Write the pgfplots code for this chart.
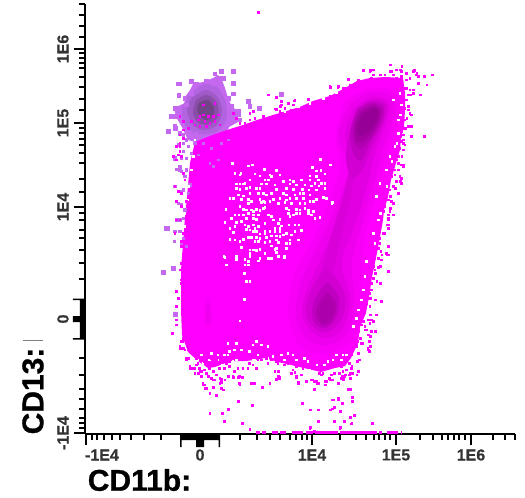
\documentclass[border=0pt]{standalone}
\usepackage{fontspec}
\setmainfont{Liberation Sans}
\newfontface\hv{Liberation Sans Bold}[FakeBold=0.9]
\newfontface\hs{Liberation Sans Bold}[FakeBold=0.4]
\usepackage{pgfplots}
\pgfplotsset{compat=1.18}
\definecolor{mag}{HTML}{FF00FF}
\definecolor{tk}{gray}{0.2}
\definecolor{blobA}{HTML}{C468F0}
\definecolor{blobB}{HTML}{B264E0}
\definecolor{blobC}{HTML}{A05AC8}
\definecolor{blobD}{HTML}{8A4DA8}
\definecolor{blobE}{HTML}{724488}
\definecolor{lv1}{HTML}{F800F8}
\definecolor{lv2}{HTML}{EE00EE}
\definecolor{lv3}{HTML}{E200E2}
\definecolor{lv4}{HTML}{D200D2}
\definecolor{lv4t}{HTML}{DA00DA}
\definecolor{lv5}{HTML}{C000C0}
\definecolor{lv5b}{HTML}{B000B0}
\definecolor{lv6}{HTML}{A200A2}
\definecolor{lv6b}{HTML}{AC00AC}
\definecolor{lv7}{HTML}{960096}
\pgfplotsset{
  /pgfplots/table/zfrR/.style={header=false,row sep=crcr,x expr=\thisrowno{0}/3+262,y expr=\thisrowno{1}/3},
  /pgfplots/table/zfrS/.style={header=false,row sep=crcr,x expr=\thisrowno{0}/3+262,y expr=\thisrowno{1}/3+250},
  /pgfplots/table/zfrL/.style={header=false,row sep=crcr,x expr=\thisrowno{0}/3,y expr=\thisrowno{1}/3},
  /pgfplots/table/zfrB/.style={header=false,row sep=crcr,x expr=\thisrowno{0}/3,y expr=\thisrowno{1}/3+250},
  /pgfplots/table/zfrC/.style={header=false,row sep=crcr,x expr=\thisrowno{0}/3+170,y expr=\thisrowno{1}/3+340},
  /pgfplots/table/zfrW/.style={header=false,row sep=crcr,x expr=\thisrowno{0}/3+215,y expr=\thisrowno{1}/3+160},
  /pgfplots/table/zfrU/.style={header=false,row sep=crcr,x expr=\thisrowno{0}/3+160,y expr=\thisrowno{1}/3+60},
  /pgfplots/table/zfrA/.style={header=false,row sep=crcr,x expr=\thisrowno{0}/3+178,y expr=\thisrowno{1}/3+340},
  /pgfplots/table/zfrE/.style={header=false,row sep=crcr,x expr=\thisrowno{0}/3+278,y expr=\thisrowno{1}/3+340},
  /pgfplots/table/zfrF/.style={header=false,row sep=crcr,x expr=\thisrowno{0}/3+360,y expr=\thisrowno{1}/3+70},
  /pgfplots/table/zfrG/.style={header=false,row sep=crcr,x expr=\thisrowno{0}/3+230,y expr=\thisrowno{1}/3+70},
  /pgfplots/table/zfrH/.style={header=false,row sep=crcr,x expr=\thisrowno{0}/3+165,y expr=\thisrowno{1}/3+130},
  /pgfplots/table/zfrI/.style={header=false,row sep=crcr,x expr=\thisrowno{0}/3+345,y expr=\thisrowno{1}/3+210},
  dot/.style={only marks,color=#1,mark=square*,mark size=0.85pt,mark options={solid,line width=0pt,draw=#1,fill=#1}},
  mid/.style={only marks,color=#1,mark=square*,mark size=1.25pt,mark options={solid,line width=0pt,draw=#1,fill=#1}},
  big/.style={only marks,color=#1,mark=square*,mark size=1.9pt,mark options={solid,line width=0pt,draw=#1,fill=#1}},
  lay/.style={draw=none,fill=#1,no marks,smooth,tension=0.6},
  poly/.style={draw=none,fill=#1,no marks},
}
\begin{document}
\begin{tikzpicture}
\useasboundingbox (-85pt,-64pt) rectangle (440pt,434pt);
\begin{axis}[
  at={(0pt,0pt)},anchor=south west,scale only axis,width=430pt,height=430pt,
  xmin=85,xmax=515,ymin=4,ymax=434,y dir=reverse,clip=false,
  axis x line=bottom,axis y line=left,
  axis line style={line width=1.6pt,black,-},
  tick align=outside,
  major tick length=11pt,minor tick length=5.5pt,
  every tick/.style={line width=1.1pt,black},
  xtick={86,200,312,396,471},
  xticklabels={\hspace*{32pt}-1E4,0,1E4,1E5,1E6},
  ytick={49,123,207,319,433},
  yticklabels={1E6,1E5,1E4,0,-1E4},
  minor xtick={92,97,104,112,120,131,144,161,240,257,270,280,290,296,302,307,340,356,366,374,379,385,390,420,433,442,448,454,459,465,493,505,515},
  minor ytick={4,15,26,37,53,58,63,68,77,87,99,110,128,133,139,145,153,163,179,192,213,220,230,238,250,263,279,358,375,389,399,409,418,423,428},
  xticklabel style={font=\hs\fontsize{16}{16}\selectfont,text=tk,anchor=center,yshift=-10pt},
  yticklabel style={font=\hs\fontsize{16}{16}\selectfont,text=tk,rotate=90,anchor=center,yshift=11pt},
  xlabel={\hv\fontsize{30}{30}\selectfont CD11b:},
  ylabel={\hv\fontsize{30}{30}\selectfont CD13:},
  xlabel style={at={(axis description cs:0.1267,-0.107)},anchor=center,text=black},
  ylabel style={at={(axis description cs:-0.121,0.1)},anchor=center,rotate=0,text=black},
]
% --- gated population, top left
\addplot[poly=blobA] coordinates {(193,84)(203,82)(213,78)(218,75)(222,80)(225,88)(228,98)(232,107)(237,110)(238,122)(229,127)(227,132)(217,136)(207,140)(195,142)(188,140)(182,127)(176,117)(174,108)(185,103)(185,97)(190,90)} -- cycle;
\addplot[lay=blobB] coordinates {(188,95)(205,84)(218,88)(226,104)(226,120)(216,132)(198,134)(186,126)(182,110)(188,95)};
\addplot[lay=blobC] coordinates {(192,98)(206,90)(218,98)(222,112)(216,126)(202,130)(191,122)(187,108)(192,98)};
\addplot[lay=blobD] coordinates {(196,100)(207,95)(217,103)(218,116)(210,124)(199,123)(193,113)(196,100)};
\addplot[lay=blobE] coordinates {(199,103)(208,100)(214,108)(213,116)(206,120)(200,116)(197,110)(199,103)};
\addplot[big=blobA] table[zfrL]{535 252\\575 245\\537 287\\505 393\\525 475\\540 510\\500 685\\645 222\\665 213\\700 215\\700 250\\533 325\\525 350\\515 348\\527 385\\540 400\\660 235\\640 250\\745 305\\750 320\\715 345\\};
\addplot[big=blobA] table[zfrU]{58 72\\95 65\\57 107\\165 42\\185 35\\220 35\\222 72\\45 145\\35 170\\45 200\\25 215\\50 170\\80 135\\75 115\\95 100\\110 72\\140 65\\160 70\\175 60\\190 55\\205 115\\215 140\\235 155\\240 180\\};
\addplot[big=blobA] table[zfrB]{490 67\\520 55\\527 193\\};
\addplot[big=blobA] table[zfrR]{58 283\\};
\addplot[big=blobA] table[zfrG]{10 5\\10 42\\10 72\\55 95\\60 110\\88 115\\};
\addplot[big=blobA] table[zfrH]{10 5\\30 85\\8 295\\};
\addplot[mid=blobA] table[zfrH]{55 15\\65 30\\55 40\\40 45\\70 50\\55 65\\80 70\\65 85\\50 85\\45 110\\35 118\\50 125\\65 120\\60 140\\30 170\\45 185\\75 165\\55 180\\70 190\\40 220\\50 225\\60 240\\45 270\\35 270\\55 265\\30 305\\45 305\\55 325\\28 335\\50 340\\65 350\\80 20\\90 40\\75 8\\95 10\\};
% --- main population
\addplot[poly=mag] coordinates {(195,142)(215,134)(230,129)(243,125)(257,120)(273,115)(290,110)(302,106)(313,101)(330,96)(345,88)(357,81)(370,78)(385,77)(403,78)(405,93)(405,110)(404,127)(401,137)(400,150)(396,163)(391,180)(388,197)(384,210)(383,220)(380,237)(377,253)(372,277)(369,297)(366,313)(360,327)(358,343)(351,358)(345,366)(335,368)(321,372)(308,369)(291,365)(278,362)(265,358)(255,360)(245,361)(231,361)(223,364)(215,367)(208,368)(198,361)(188,352)(182,335)(181,310)(181,270)(183,243)(185,217)(187,197)(190,163)} -- cycle;
% --- density levels
\addplot[lay=lv1] coordinates {(345,100)(372,88)(395,92)(400,115)(388,150)(378,190)(368,225)(362,260)(360,300)(355,335)(335,352)(305,350)(290,325)(290,290)(300,262)(315,235)(330,200)(340,165)(336,135)(345,100)};
\addplot[lay=lv2] coordinates {(350,103)(372,92)(392,97)(394,115)(383,150)(372,190)(362,225)(352,262)(354,300)(348,332)(330,345)(308,340)(296,318)(300,285)(312,258)(328,225)(342,190)(348,165)(338,135)(350,103)};
\addplot[lay=lv3] coordinates {(354,108)(372,97)(388,102)(388,118)(376,150)(366,190)(354,228)(342,262)(350,298)(344,326)(328,338)(312,332)(302,312)(310,282)(326,248)(340,210)(352,170)(345,135)(354,108)};
\addplot[lay=lv4t] coordinates {(356,170)(350,200)(340,240)(332,275)(322,275)(330,240)(342,200)(350,170)(356,170)};
\addplot[lay=lv4] coordinates {(356,110)(372,100)(386,104)(384,122)(372,148)(362,170)(352,178)(346,160)(349,135)(356,110)};
\addplot[lay=lv4] coordinates {(325,268)(338,280)(346,300)(340,322)(326,332)(312,326)(306,310)(312,288)(325,268)};
\addplot[lay=lv5] coordinates {(358,108)(372,102)(384,107)(381,124)(370,143)(362,160)(354,155)(350,132)(358,108)};
\addplot[lay=lv5] coordinates {(328,282)(339,298)(336,318)(325,328)(314,322)(313,305)(320,290)(328,282)};
\addplot[lay=lv5b] coordinates {(360,110)(373,104)(382,110)(378,126)(367,143)(358,148)(353,135)(355,120)(360,110)};
\addplot[lay=lv5b] coordinates {(328,292)(336,304)(332,320)(323,325)(316,315)(320,300)(328,292)};
\addplot[lay=lv6] coordinates {(361,112)(374,106)(380,113)(376,126)(365,140)(357,141)(355,125)(361,112)};
\addplot[lay=lv6b] coordinates {(329,298)(334,306)(330,318)(323,322)(319,314)(323,303)(329,298)};
\addplot[lay=lv7] coordinates {(363,114)(375,108)(378,114)(372,128)(362,136)(357,132)(359,120)(363,114)};
\addplot[lay=lv1] coordinates {(208,296)(212,310)(211,325)(206,325)(204,310)(208,296)};
\addplot[lay=lv2] coordinates {(208,302)(210,312)(209,322)(207,322)(206,312)(208,302)};
% --- holes in the main population
\addplot[dot=white] table[zfrW]{52 10\\100 18\\112 15\\148 28\\292 22\\347 15\\318 32\\305 33\\60 40\\78 40\\75 45\\120 42\\185 32\\165 45\\135 48\\195 45\\285 48\\305 50\\330 42\\105 60\\150 60\\160 60\\170 50\\90 70\\225 60\\235 65\\260 60\\205 65\\310 60\\320 70\\285 60\\300 70\\330 70\\65 72\\75 72\\85 72\\140 72\\155 72\\180 75\\225 72\\245 75\\270 75\\290 78\\312 78\\65 85\\75 88\\95 85\\105 82\\125 85\\135 85\\185 88\\215 85\\235 88\\262 88\\282 90\\305 90\\330 85\\45 115\\70 105\\55 115\\85 108\\105 100\\130 100\\145 100\\155 105\\170 100\\205 100\\215 105\\240 105\\255 100\\265 100\\285 105\\325 112\\305 118\\335 115\\80 118\\100 118\\135 118\\145 125\\165 125\\175 118\\195 115\\215 120\\225 115\\245 115\\265 115\\285 125\\295 125\\352 128\\100 130\\110 125\\140 128\\150 128\\190 130\\210 128\\230 130\\255 130\\270 130\\33 148\\75 140\\85 148\\95 150\\110 150\\125 148\\135 152\\145 145\\150 142\\215 145\\222 150\\245 148\\255 150\\270 145\\280 152\\295 155\\60 165\\72 165\\85 165\\100 160\\115 155\\115 165\\115 175\\130 165\\160 165\\170 170\\220 160\\225 170\\235 165\\245 160\\255 160\\290 165\\300 175\\280 160\\315 172\\30 188\\50 175\\65 188\\80 185\\95 175\\125 178\\175 180\\190 190\\222 195\\240 195\\252 195\\195 178\\45 205\\60 200\\90 195\\100 200\\115 195\\120 205\\150 190\\180 205\\195 205\\200 198\\130 200\\95 208\\105 210\\115 215\\125 215\\55 218\\135 222\\150 215\\165 215\\180 215\\195 215\\150 222\\215 220\\240 215\\230 225\\260 212\\45 238\\60 240\\85 238\\100 232\\110 232\\125 232\\135 235\\155 232\\170 228\\185 228\\195 230\\225 240\\250 240\\205 225\\75 245\\120 245\\130 245\\150 248\\165 245\\185 240\\190 248\\170 258\\215 250\\225 250\\80 262\\105 270\\115 270\\125 272\\135 268\\180 268\\185 265\\215 265\\105 280\\150 280\\185 278\\30 292\\65 292\\65 298\\90 298\\100 305\\130 303\\160 296\\170 296\\190 290\\208 288\\208 293\\};
\addplot[dot=white] table[zfrB]{672 20\\710 20\\750 20\\780 25\\735 45\\680 45\\745 45\\733 70\\740 95\\750 95\\733 148\\720 213\\};
\addplot[dot=white] table[zfrA]{150 10\\175 10\\235 5\\225 15\\250 15\\270 20\\155 35\\170 30\\190 30\\215 35\\120 60\\165 65\\200 70\\230 60\\260 65\\285 50\\150 45\\175 60\\130 75\\205 75\\250 75\\95 60\\75 70\\60 60\\120 45\\140 45\\160 80\\185 75\\225 60\\240 45\\270 55\\290 75\\45 60\\70 45\\100 40\\};
\addplot[dot=white] table[zfrE]{175 45\\195 45\\80 55\\45 45\\30 40\\20 60\\55 60\\90 65\\115 75\\140 75\\165 60\\190 60\\225 65\\235 55\\65 90\\30 85\\95 90\\150 65\\10 45\\205 45\\};
\addplot[dot=white] table[zfrI]{100 30\\85 70\\90 100\\65 155\\60 200\\55 240\\50 270\\40 300\\35 325\\25 350\\};
\addplot[dot=white] table[zfrF]{120 70\\125 105\\115 150\\115 190\\105 230\\90 260\\80 300\\60 340\\50 380\\};
\addplot[dot=white] table[zfrG]{40 160\\85 140\\125 125\\165 125\\205 110\\240 100\\280 85\\320 70\\345 40\\};
\addplot[dot=white] table[zfrH]{90 30\\85 80\\80 120\\70 170\\68 210\\60 250\\58 290\\};
\addplot[dot=white] table[zfrR]{175 478\\205 495\\210 610\\395 300\\415 345\\405 430\\390 485\\375 560\\355 640\\};
% --- stray events
\addplot[dot=mag] table[zfrR]{385 195\\420 200\\415 210\\305 212\\325 212\\385 215\\355 225\\458 212\\465 220\\470 230\\487 230\\512 225\\495 255\\475 285\\455 270\\445 285\\435 265\\430 300\\440 320\\450 345\\435 355\\450 380\\430 385\\420 395\\415 410\\450 410\\487 410\\425 430\\410 470\\420 470\\390 460\\405 480\\425 495\\410 510\\385 525\\415 545\\360 550\\400 565\\410 580\\385 590\\370 600\\395 610\\385 625\\355 620\\395 645\\380 655\\375 675\\345 690\\365 700\\330 715\\380 740\\345 710\\300 255\\260 238\\228 262\\245 265\\205 262\\240 295\\140 297\\18 285\\43 292\\97 303\\80 310\\60 305\\55 320\\40 327\\60 340\\103 350\\45 350\\};
\addplot[dot=mag] table[zfrS]{360 15\\375 15\\350 25\\355 50\\380 65\\335 35\\340 70\\345 95\\355 100\\320 90\\330 100\\315 125\\325 145\\340 150\\360 155\\315 160\\305 185\\345 195\\325 195\\320 210\\305 215\\285 220\\290 235\\340 245\\315 240\\325 260\\295 265\\300 280\\325 290\\320 300\\285 290\\265 293\\290 310\\270 315\\285 335\\270 350\\290 365\\285 375\\265 370\\250 375\\240 378\\245 388\\265 385\\230 400\\205 390\\190 405\\165 400\\150 390\\135 395\\110 398\\260 418\\265 418\\157 418\\212 450\\228 445\\228 450\\270 442\\270 455\\242 462\\212 477\\205 480\\235 485\\122 462\\145 480\\168 480\\278 497\\265 502\\168 515\\218 515\\248 515\\270 520\\330 520\\145 533\\235 533\\157 545\\};
\addplot[dot=mag] table[zfrC]{35 5\\40 25\\30 25\\50 60\\60 85\\75 100\\95 110\\90 95\\105 135\\105 145\\120 160\\140 168\\130 120\\150 115\\150 130\\155 145\\160 150\\130 142\\165 120\\175 110\\190 112\\205 112\\218 112\\210 135\\245 130\\255 130\\278 143\\300 130\\320 118\\330 112\\205 185\\248 197\\175 208\\120 220\\157 220\\163 245\\217 250\\240 268\\398 190\\420 210\\445 210\\445 245\\420 265\\435 275\\490 180\\505 175\\505 180\\517 190\\493 202\\480 210\\510 215\\553 228\\540 232\\523 245\\493 245\\545 252\\510 265\\607 250\\547 172\\547 185\\540 150\\535 148\\432 150\\385 130\\410 125\\428 120\\440 125\\445 130\\465 125\\465 135\\480 118\\505 130\\520 118\\375 98\\325 95\\315 95\\325 110\\380 112\\};
\addplot[dot=mag] table[zfrA]{15 5\\30 5\\10 25\\30 30\\40 35\\25 55\\45 45\\55 55\\60 70\\40 85\\50 85\\65 85\\70 95\\80 90\\85 100\\85 75\\95 85\\105 95\\115 105\\100 115\\110 120\\75 130\\130 118\\130 128\\115 60\\135 60\\145 70\\155 65\\140 85\\155 80\\170 95\\180 85\\165 110\\185 110\\190 60\\205 60\\215 70\\225 75\\195 85\\210 85\\240 60\\235 85\\250 60\\265 55\\270 70\\280 60\\295 65\\255 45\\275 40\\290 40\\185 130\\70 60\\80 65\\95 70\\100 55\\110 75\\125 70\\125 85\\};
\addplot[dot=mag] table[zfrE]{0 70\\10 60\\20 75\\0 95\\45 90\\40 100\\55 110\\70 105\\75 85\\100 80\\120 90\\125 100\\135 100\\150 85\\160 75\\175 70\\210 60\\215 70\\245 60\\240 65\\220 85\\205 90\\195 95\\185 100\\170 100\\160 105\\155 115\\145 125\\100 120\\110 125\\120 130\\85 125\\60 130\\5 115\\130 105\\225 100\\215 105\\190 115\\200 110\\165 120\\255 10\\275 5\\270 25\\275 35\\240 5\\230 20\\30 70\\55 80\\70 70\\110 75\\140 85\\190 80\\200 70\\};
\addplot[dot=mag] table[zfrF]{5 45\\30 5\\40 15\\35 25\\60 15\\75 15\\85 25\\95 5\\100 15\\110 25\\125 5\\125 20\\140 10\\160 5\\170 15\\175 40\\150 25\\140 30\\135 55\\150 60\\160 70\\145 75\\140 90\\135 115\\145 120\\150 130\\155 135\\135 150\\130 175\\125 185\\145 170\\155 170\\155 200\\130 195\\130 210\\125 215\\135 225\\120 235\\130 240\\98 250\\115 260\\105 270\\95 285\\115 280\\125 285\\130 290\\105 300\\95 320\\105 315\\120 320\\125 325\\110 335\\125 340\\68 340\\100 350\\90 360\\80 375\\115 370\\70 380\\85 390\\95 395\\60 410\\75 410\\90 415\\40 0\\110 0\\};
\addplot[dot=mag] table[zfrG]{115 75\\155 95\\155 105\\175 100\\195 90\\190 105\\235 88\\300 50\\325 50\\345 55\\355 30\\360 45\\385 30\\320 75\\330 70\\335 85\\300 80\\290 90\\275 100\\255 105\\270 115\\250 120\\210 120\\185 120\\165 115\\140 118\\150 125\\70 125\\60 130\\75 145\\100 140\\120 145\\60 150\\45 160\\10 130\\20 145\\30 160\\};
\addplot[dot=mag] table[zfrH]{45 15\\45 50\\40 75\\55 130\\60 150\\75 195\\65 215\\70 240\\65 280\\80 255\\75 145\\75 300\\70 320\\60 300\\};
\addplot[dot=mag] table[zfrI]{115 5\\135 5\\130 15\\145 15\\110 25\\130 30\\105 40\\130 45\\118 70\\100 60\\105 85\\130 55\\105 100\\100 115\\108 125\\85 140\\80 150\\90 145\\110 150\\130 135\\125 130\\75 160\\85 170\\100 172\\90 180\\130 185\\80 185\\75 205\\85 205\\105 220\\70 215\\65 245\\80 240\\75 250\\90 270\\70 265\\110 275\\65 275\\60 290\\75 290\\75 315\\55 315\\95 315\\80 330\\75 340\\40 340\\50 345\\60 350\\85 335\\60 360\\70 375\\40 365\\45 385\\35 400\\75 395\\15 413\\75 410\\50 400\\80 365\\};
\addplot[dot=mag] table[zfrL]{775 38\\530 440\\540 455\\545 470\\530 480\\520 470\\525 560\\535 575\\545 580\\530 605\\545 620\\540 660\\530 660\\525 700\\545 725\\545 740\\550 700\\};
\addplot[dot=mag] table[zfrB]{545 40\\540 60\\545 90\\545 100\\530 125\\535 145\\530 170\\530 210\\530 225\\518 250\\550 265\\540 290\\560 275\\555 300\\565 325\\570 350\\590 345\\595 370\\605 380\\615 360\\625 380\\640 365\\610 405\\620 415\\630 430\\650 435\\670 420\\660 400\\720 405\\755 400\\763 400\\715 455\\757 465\\685 478\\630 490\\667 490\\672 515\\727 520\\750 540\\};
\addplot[dot=mag] table[zfrU]{130 135\\165 130\\120 170\\130 165\\145 170\\160 170\\175 165\\115 180\\135 185\\150 190\\165 185\\105 195\\120 200\\140 200\\180 195\\60 170\\70 185\\95 185\\85 205\\70 210\\60 225\\70 235\\60 250\\};
\addplot[dot=blobA] table[zfrU]{115 285\\155 265\\185 250\\175 300\\130 250\\150 310\\160 320\\205 240\\};
% --- events on the axis
\addplot[draw=mag,line width=2.2pt,no marks,unbounded coords=jump] coordinates {(256,432.5)(260,432.5)(258,nan)(262,432.5)(266,432.5)(268,nan)(272,432.5)(278,432.5)(279,nan)(280,432.5)(286,432.5)(288,nan)(292,432.5)(303,432.5)(304,nan)(306,432.5)(313,432.5)(314,nan)(315,432.5)(338,432.5)(339,nan)(340,432.5)(377,432.5)(378,nan)(379,432.5)(382,432.5)(384,nan)(387,432.5)(398,432.5)(399,nan)(401,432.5)(402,432.5)};
% --- the wide linear bands of the biexponential scales
\addplot[poly=black] coordinates {(180,434)(220,434)(220,447)(218.5,447)(218.5,440)(204,440)(204,447)(196,447)(196,440)(181.5,440)(181.5,447)(180,447)} -- cycle;
\addplot[poly=black] coordinates {(85,298.5)(85,339.5)(73,339.5)(73,338)(80,338)(80,322)(73,322)(73,316)(80,316)(80,300)(73,300)(73,298.5)} -- cycle;
\addplot[draw=gray,line width=0.4pt,no marks] coordinates {(23,340)(43,340)};
\end{axis}
\end{tikzpicture}
\end{document}
